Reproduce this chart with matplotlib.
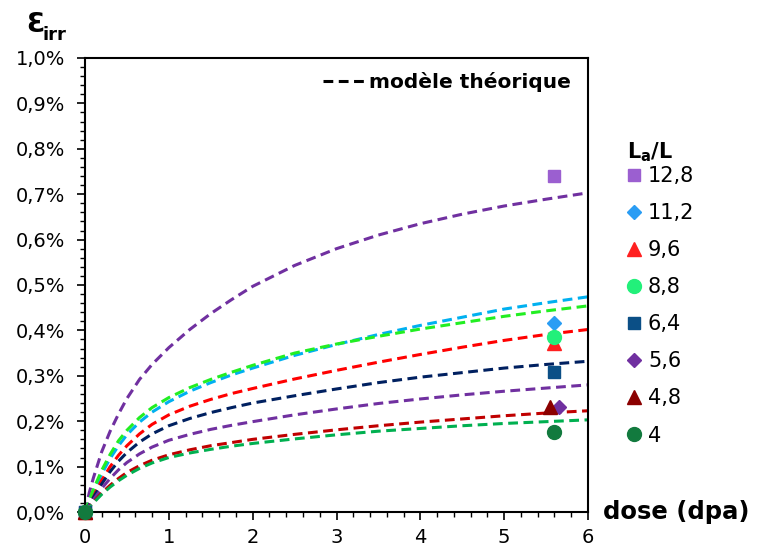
import numpy as np
import matplotlib
matplotlib.use('Agg')
import matplotlib.pyplot as plt
from matplotlib.lines import Line2D
from matplotlib.ticker import MultipleLocator, FuncFormatter

plt.rcParams['font.family'] = ['DejaVu Sans']

# experimental points (dose in dpa, strain in %)
ratios = ['12,8', '11,2', '9,6', '8,8', '6,4', '5,6', '4,8', '4']
dose_exp = [5.6, 5.6, 5.6, 5.6, 5.6, 5.65, 5.55, 5.6]
eps_exp = [0.740, 0.416, 0.372, 0.386, 0.309, 0.231, 0.232, 0.177]
markers = ['s', 'D', '^', 'o', 's', 'D', '^', 'o']
marker_colors = ['#9b5fd0', '#2a9df4', '#ff2020', '#22f07a',
                 '#0b4f86', '#7030a0', '#8b0000', '#127a3e']

# theoretical model curves
dose_model = [0, 0.05, 0.1, 0.2, 0.3, 0.4, 0.5, 0.65, 0.8, 1, 1.25, 1.5, 1.75, 2,
              2.5, 3, 3.5, 4, 4.5, 5, 5.5, 6]
model_12_8 = [0, 0.042, 0.075, 0.133, 0.178, 0.216, 0.25, 0.292, 0.325, 0.362, 0.402,
              0.437, 0.468, 0.497, 0.543, 0.580, 0.610, 0.635, 0.656, 0.674, 0.689, 0.703]
model_11_2 = [0, 0.022, 0.044, 0.084, 0.118, 0.146, 0.17, 0.198, 0.22, 0.243, 0.266,
              0.285, 0.302, 0.317, 0.345, 0.369, 0.391, 0.411, 0.429, 0.447, 0.461, 0.474]
model_9_6 = [0, 0.018, 0.036, 0.07, 0.10, 0.125, 0.146, 0.172, 0.193, 0.214, 0.233,
             0.248, 0.261, 0.272, 0.293, 0.312, 0.33, 0.347, 0.363, 0.378, 0.391, 0.402]
model_8_8 = [0, 0.026, 0.05, 0.092, 0.127, 0.157, 0.18, 0.208, 0.23, 0.252, 0.274,
             0.292, 0.308, 0.323, 0.35, 0.37, 0.387, 0.403, 0.417, 0.431, 0.443, 0.454]
model_6_4 = [0, 0.016, 0.032, 0.062, 0.089, 0.112, 0.131, 0.154, 0.172, 0.19, 0.206,
             0.219, 0.23, 0.24, 0.256, 0.271, 0.285, 0.297, 0.307, 0.317, 0.325, 0.332]
model_5_6 = [0, 0.014, 0.027, 0.052, 0.074, 0.093, 0.109, 0.128, 0.143, 0.158, 0.171,
             0.182, 0.191, 0.199, 0.214, 0.227, 0.239, 0.249, 0.258, 0.266, 0.273, 0.28]
model_4_8 = [0, 0.011, 0.022, 0.042, 0.059, 0.074, 0.087, 0.102, 0.114, 0.126, 0.137,
             0.146, 0.153, 0.16, 0.171, 0.181, 0.19, 0.198, 0.205, 0.212, 0.218, 0.223]
model_4 = [0, 0.01, 0.02, 0.039, 0.055, 0.069, 0.081, 0.096, 0.108, 0.12, 0.13,
           0.138, 0.145, 0.151, 0.161, 0.17, 0.178, 0.184, 0.19, 0.195, 0.199, 0.203]
models = [model_12_8, model_11_2, model_9_6, model_8_8, model_6_4, model_5_6, model_4_8, model_4]
model_colors = ['#7030a0', '#00b0f0', '#ff0000', '#22ee22',
                '#002060', '#7030a0', '#c00000', '#00b050']

fig = plt.figure(figsize=(7.58, 5.48), dpi=100)
ax = fig.add_axes([85 / 758, 36 / 548, 503 / 758, 454 / 548])

for ys, c in zip(models, model_colors):
    ax.plot(dose_model, ys, color=c, lw=2.2, dashes=(3.2, 1.8), zorder=2)

handles = []
for i in range(len(ratios)):
    ms = 9 if markers[i] == 's' else (7.5 if markers[i] == 'D' else 10)
    h, = ax.plot([0, dose_exp[i]], [0, eps_exp[i]], ls='none', marker=markers[i],
                 color=marker_colors[i], ms=ms, clip_on=False, zorder=3 + i,
                 label=ratios[i])
    handles.append(h)

ax.set_xlim(0, 6)
ax.set_ylim(0, 1.0)
ax.xaxis.set_major_locator(MultipleLocator(1))
ax.xaxis.set_minor_locator(MultipleLocator(0.2))
ax.yaxis.set_major_locator(MultipleLocator(0.1))
ax.yaxis.set_minor_locator(MultipleLocator(0.02))
ax.yaxis.set_major_formatter(FuncFormatter(lambda v, p: f'{v:.1f}%'.replace('.', ',')))
ax.tick_params(which='major', direction='out', length=5.5, width=1.2, labelsize=14)
ax.tick_params(which='minor', direction='out', length=3.5, width=1.0)
ax.tick_params(axis='y', pad=9)
ax.tick_params(axis='x', pad=6)
for s in ax.spines.values():
    s.set_linewidth(1.5)

# legend of experimental points
leg = ax.legend(handles=handles, loc='upper left', bbox_to_anchor=(626 / 758, 1 - 166 / 548),
                bbox_transform=fig.transFigure, frameon=False, fontsize=15,
                handlelength=0.8, handletextpad=0.25, labelspacing=0.82, borderpad=0,
                borderaxespad=0)
ax.add_artist(leg)
fig.text(627 / 758, 1 - 152 / 548, r'$\mathbf{L_a/L}$', fontsize=15, ha='left', va='center')

# legend of theoretical model
model_line = Line2D([], [], color='black', lw=2.2, dashes=(3.2, 1.8))
ax.legend(handles=[model_line], labels=['modèle théorique'], loc='center left',
          bbox_to_anchor=(323 / 758, 1 - 82 / 548), bbox_transform=fig.transFigure,
          frameon=False, prop={'size': 14.5, 'weight': 'bold'}, handlelength=2.1,
          handletextpad=0.2, borderpad=0, borderaxespad=0)

fig.text(603 / 758, 1 - 512 / 548, 'dose (dpa)', fontsize=17.5, fontweight='bold',
         ha='left', va='center')
fig.text(26 / 758, 1 - 32 / 548, 'Ɛ', fontsize=19, fontweight='bold', ha='left', va='baseline')
fig.text(43 / 758, 1 - 40 / 548, 'irr', fontsize=13, fontweight='bold', ha='left', va='baseline')

fig.savefig('out.png', dpi=100)
